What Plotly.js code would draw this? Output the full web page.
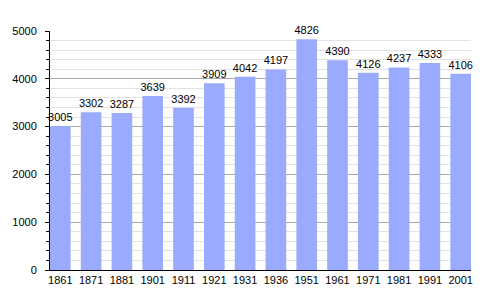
<!DOCTYPE html>
<html>
<head>
<meta charset="utf-8">
<script src="https://cdn.plot.ly/plotly-3.0.1.min.js"></script>
<style>html,body{margin:0;padding:0;background:#fff;}#chart{width:500px;height:300px;}</style>
</head>
<body>
<div id="chart"></div>
<script>
const years = ["1861","1871","1881","1901","1911","1921","1931","1936","1951","1961","1971","1981","1991","2001"];
const population = [3005,3302,3287,3639,3392,3909,4042,4197,4826,4390,4126,4237,4333,4106];
const yTicks = [0,1000,2000,3000,4000,5000];

const trace = {
  type: 'bar',
  x: years,
  y: population,
  marker: {color: '#9aabfd', line: {width: 0}},
  text: population.map(String),
  textposition: 'outside',
  constraintext: 'none',
  cliponaxis: false,
  textfont: {family: 'Liberation Sans, Arial, sans-serif', size: 11, color: '#000'},
  hoverinfo: 'none'
};

const layout = {
  width: 500, height: 300,
  margin: {l: 50, r: 29, t: 31, b: 30},
  paper_bgcolor: '#fff', plot_bgcolor: '#fff',
  bargap: 0.33,
  showlegend: false,
  font: {family: 'Liberation Sans, Arial, sans-serif', size: 11, color: '#000'},
  xaxis: {
    type: 'category',
    range: [-0.335, 13.335],
    showline: true, linecolor: '#000', linewidth: 1,
    ticks: '', showgrid: false, zeroline: false,
    tickfont: {size: 11, color: '#000'}
  },
  yaxis: {
    range: [0, 5000],
    tickvals: yTicks,
    ticktext: yTicks.map(String),
    showline: true, linecolor: '#000', linewidth: 1,
    ticks: 'outside', ticklen: 4, tickcolor: '#000',
    showgrid: true, gridcolor: '#aaaaaa', gridwidth: 1,
    zeroline: false,
    tickfont: {size: 11, color: '#000'},
    ticklabelstandoff: 6,
    minor: {dtick: 200, tick0: 0, ticks: 'outside', ticklen: 3, tickcolor: '#000', showgrid: true, gridcolor: '#e2e2e2', gridwidth: 1}
  }
};

Plotly.newPlot('chart', [trace], layout, {displayModeBar: false, staticPlot: true});
</script>
</body>
</html>
